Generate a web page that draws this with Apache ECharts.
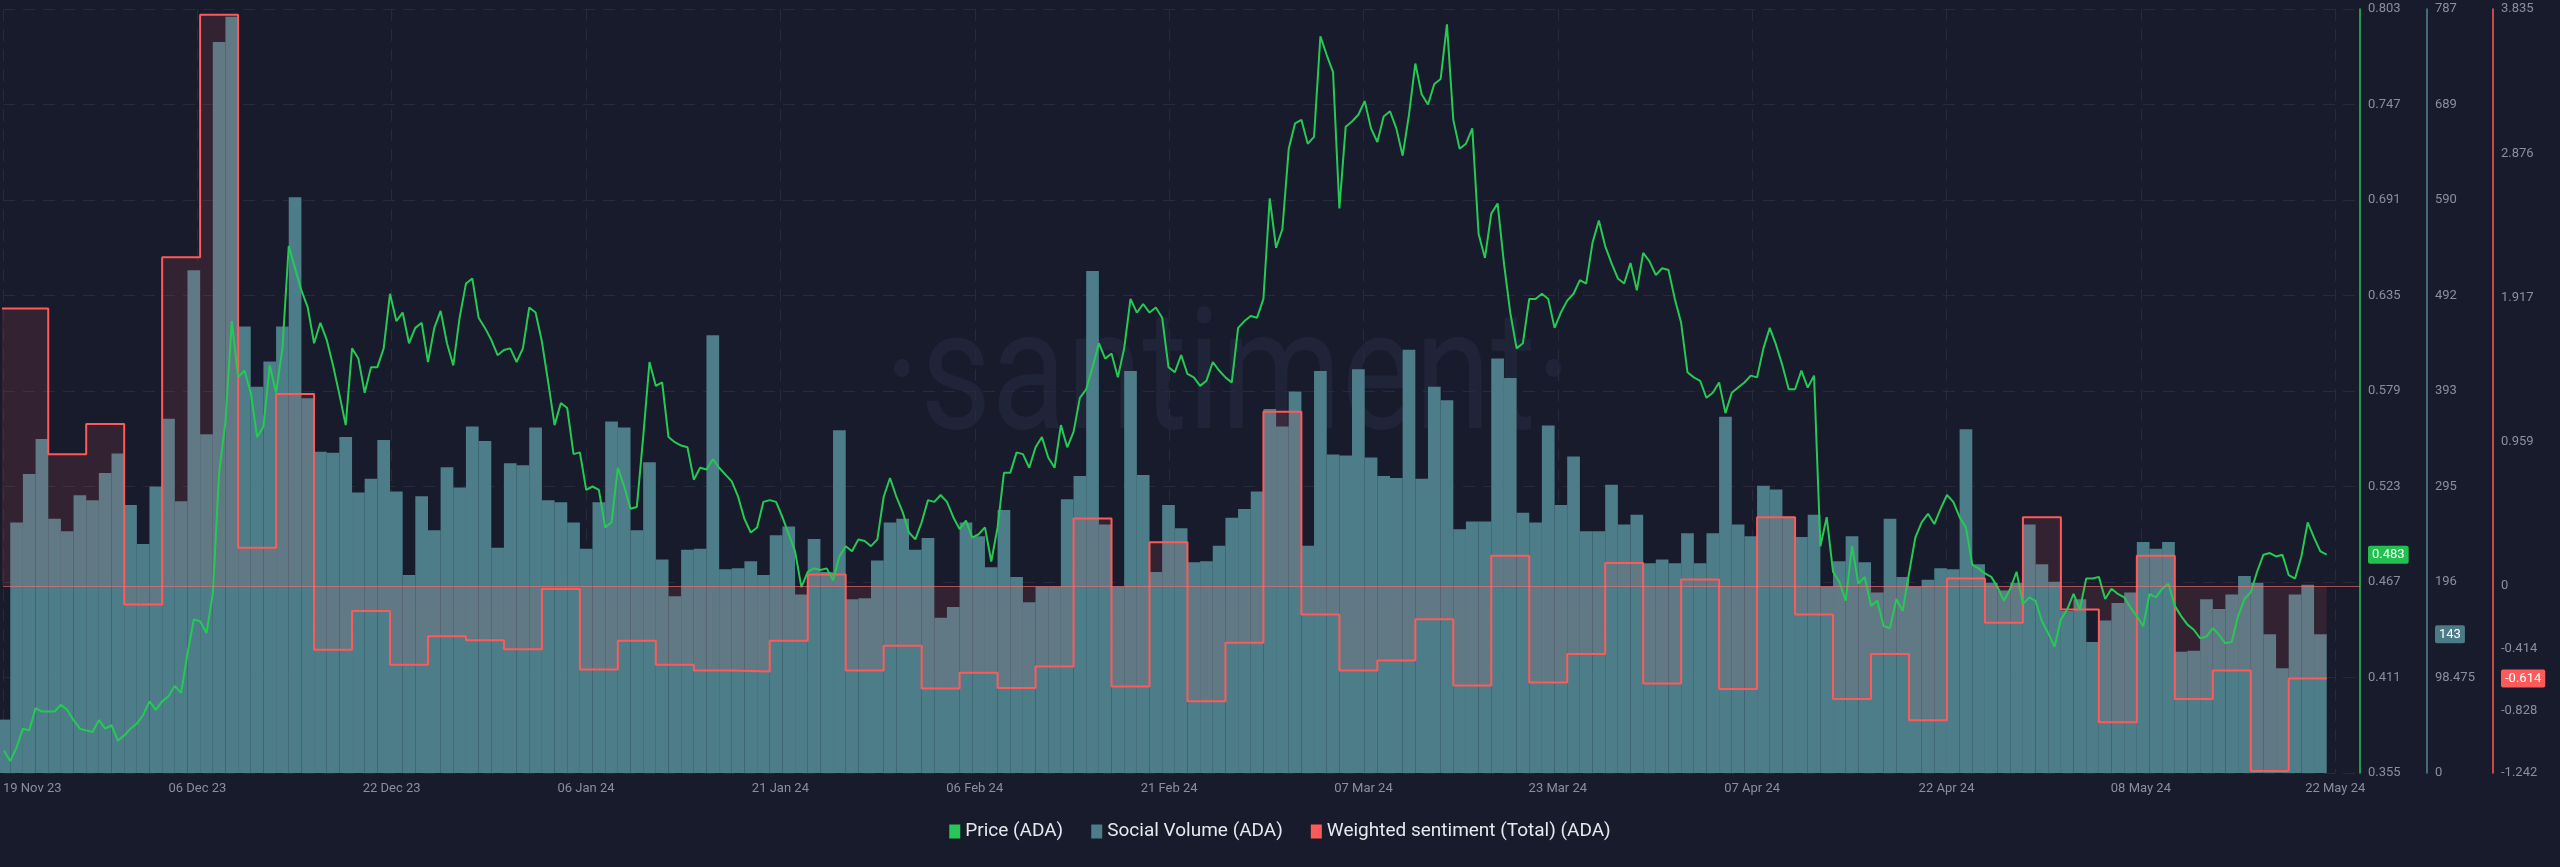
<!DOCTYPE html>
<html>
<head>
<meta charset="utf-8">
<title>ADA price, social volume and weighted sentiment</title>
<script src="https://cdn.jsdelivr.net/npm/echarts@6/dist/echarts.min.js"></script>
<style>
  html, body { margin: 0; padding: 0; background: #181b2b; }
  #chart { width: 2560px; height: 867px; }
</style>
</head>
<body>
<div id="chart"></div>
<script>
// x values are days counted from 20 Nov 2023 00:00

const dateTickLabels = ["19 Nov 23", "06 Dec 23", "22 Dec 23", "06 Jan 24", "21 Jan 24", "06 Feb 24",
  "21 Feb 24", "07 Mar 24", "23 Mar 24", "07 Apr 24", "22 Apr 24", "08 May 24", "22 May 24"];

// one bar per day, day 0 = 20 Nov 23
const socialVolume = [
  55, 258, 308, 344, 262, 249, 286, 281, 309, 329,
  276, 236, 295, 365, 280, 518, 349, 753, 779, 460,
  398, 424, 460, 593, 386, 331, 330, 346, 289, 303,
  343, 290, 204, 285, 250, 315, 294, 357, 342, 232,
  319, 317, 356, 281, 279, 258, 231, 279, 362, 356,
  250, 320, 220, 182, 230, 231, 451, 210, 211, 218,
  204, 245, 254, 184, 241, 207, 353, 179, 180, 219,
  258, 262, 230, 242, 160, 171, 258, 244, 212, 271,
  202, 176, 192, 192, 282, 306, 517, 256, 192, 414,
  307, 207, 276, 252, 217, 218, 234, 263, 272, 290,
  375, 357, 393, 234, 414, 328, 327, 416, 325, 306,
  304, 436, 303, 398, 384, 251, 259, 259, 427, 407,
  268, 258, 358, 276, 326, 249, 249, 297, 256, 266,
  216, 220, 216, 247, 216, 247, 367, 256, 244, 296,
  292, 264, 243, 266, 192, 218, 244, 217, 186, 262,
  202, 192, 199, 211, 210, 354, 215, 196, 188, 196,
  256, 215, 197, 167, 179, 135, 157, 175, 186, 238,
  231, 238, 125, 126, 179, 169, 184, 203, 196, 143,
  108, 184, 194, 143
];

// price every half day, first sample at day 0.5
const priceFirstDay = 0.5;
const priceStepDays = 0.5;
const price = [
  0.368, 0.362, 0.370, 0.381, 0.380, 0.393, 0.391, 0.391, 0.391, 0.395,
  0.392, 0.386, 0.381, 0.380, 0.379, 0.386, 0.381, 0.383, 0.374, 0.377,
  0.381, 0.384, 0.389, 0.397, 0.392, 0.397, 0.400, 0.406, 0.402, 0.425,
  0.445, 0.444, 0.437, 0.460, 0.531, 0.561, 0.620, 0.587, 0.591, 0.578,
  0.552, 0.558, 0.594, 0.578, 0.604, 0.664, 0.651, 0.638, 0.628, 0.607,
  0.619, 0.609, 0.594, 0.577, 0.559, 0.604, 0.598, 0.578, 0.593, 0.593,
  0.604, 0.636, 0.620, 0.625, 0.607, 0.616, 0.619, 0.596, 0.616, 0.626,
  0.607, 0.594, 0.622, 0.642, 0.645, 0.622, 0.616, 0.609, 0.600, 0.603,
  0.604, 0.596, 0.604, 0.628, 0.625, 0.608, 0.584, 0.559, 0.572, 0.569,
  0.542, 0.543, 0.521, 0.523, 0.521, 0.499, 0.502, 0.534, 0.523, 0.510,
  0.511, 0.552, 0.596, 0.582, 0.584, 0.552, 0.549, 0.547, 0.546, 0.527,
  0.534, 0.533, 0.539, 0.534, 0.530, 0.526, 0.517, 0.504, 0.496, 0.499,
  0.514, 0.515, 0.514, 0.505, 0.495, 0.485, 0.464, 0.473, 0.475, 0.474,
  0.475, 0.468, 0.482, 0.488, 0.485, 0.492, 0.491, 0.488, 0.492, 0.517,
  0.528, 0.517, 0.508, 0.496, 0.492, 0.502, 0.515, 0.514, 0.518, 0.514,
  0.505, 0.498, 0.503, 0.493, 0.495, 0.499, 0.479, 0.499, 0.531, 0.531,
  0.543, 0.542, 0.534, 0.546, 0.552, 0.540, 0.534, 0.559, 0.546, 0.555,
  0.575, 0.580, 0.593, 0.607, 0.598, 0.601, 0.587, 0.604, 0.633, 0.625,
  0.630, 0.625, 0.628, 0.622, 0.593, 0.590, 0.600, 0.589, 0.587, 0.582,
  0.585, 0.596, 0.591, 0.587, 0.584, 0.616, 0.620, 0.623, 0.622, 0.633,
  0.692, 0.663, 0.674, 0.721, 0.736, 0.738, 0.724, 0.728, 0.787, 0.776,
  0.766, 0.686, 0.734, 0.737, 0.741, 0.749, 0.733, 0.725, 0.740, 0.743,
  0.733, 0.717, 0.741, 0.771, 0.753, 0.747, 0.759, 0.762, 0.794, 0.738,
  0.721, 0.724, 0.733, 0.671, 0.657, 0.683, 0.689, 0.654, 0.625, 0.604,
  0.607, 0.633, 0.633, 0.636, 0.633, 0.616, 0.625, 0.632, 0.636, 0.644,
  0.642, 0.666, 0.679, 0.664, 0.654, 0.645, 0.642, 0.654, 0.638, 0.660,
  0.655, 0.647, 0.651, 0.650, 0.633, 0.619, 0.590, 0.587, 0.585, 0.575,
  0.578, 0.584, 0.566, 0.578, 0.581, 0.584, 0.588, 0.587, 0.604, 0.616,
  0.606, 0.594, 0.580, 0.580, 0.591, 0.581, 0.588, 0.488, 0.505, 0.473,
  0.467, 0.456, 0.488, 0.466, 0.470, 0.453, 0.456, 0.441, 0.440, 0.457,
  0.450, 0.472, 0.493, 0.502, 0.507, 0.501, 0.510, 0.518, 0.514, 0.505,
  0.499, 0.477, 0.475, 0.472, 0.470, 0.464, 0.456, 0.463, 0.473, 0.454,
  0.458, 0.456, 0.444, 0.437, 0.429, 0.445, 0.451, 0.460, 0.451, 0.469,
  0.469, 0.470, 0.457, 0.463, 0.460, 0.458, 0.452, 0.447, 0.441, 0.460,
  0.458, 0.463, 0.466, 0.453, 0.447, 0.442, 0.439, 0.434, 0.435, 0.440,
  0.436, 0.431, 0.432, 0.447, 0.457, 0.461, 0.473, 0.483, 0.484, 0.482,
  0.483, 0.471, 0.469, 0.482, 0.502, 0.493, 0.485, 0.483
];

// weighted sentiment, one value per 3-day period, first period starts at day -2
const sentimentFirstDay = -2;
const sentimentStepDays = 3;
const sentiment = [
  1.845, 1.845, 0.877, 1.078, -0.122, 2.186, 3.796, 0.255, 1.277, -0.423,
  -0.165, -0.522, -0.333, -0.360, -0.419, -0.019, -0.555, -0.363, -0.522, -0.561,
  -0.568, -0.363, 0.077, -0.561, -0.396, -0.680, -0.575, -0.677, -0.535, 0.450,
  -0.667, 0.291, -0.766, -0.376, 1.158, -0.188, -0.561, -0.495, -0.221, -0.661,
  0.202, -0.641, -0.452, 0.153, -0.647, 0.044, -0.684, 0.457, -0.188, -0.750,
  -0.452, -0.892, 0.050, -0.244, 0.457, -0.155, -0.905, 0.202, -0.750, -0.561,
  -1.229, -0.614
];

const priceTicks = [0.355, 0.411, 0.467, 0.523, 0.579, 0.635, 0.691, 0.747, 0.803];
const volumeTickLabels = ["0", "98.475", "196", "295", "393", "492", "590", "689", "787"];
const volumeMax = 787;
const sentimentTicks = [-1.242, -0.828, -0.414, 0, 0.959, 1.917, 2.876, 3.835];

// view window on the x axis
const X_MIN = 0.426;
const X_MAX = 186.63;
const X_TICK_STEP = 15.354;

const GREEN = "#26c953";
const TEAL = "#4d7d89";
const RED = "#ff5a5a";
const AXIS_TEXT = "#8a8f9f";
const FONT = "Roboto";

const lastPrice = price[price.length - 1];
const lastVolume = socialVolume[socialVolume.length - 1];
const lastSentiment = sentiment[sentiment.length - 1];

const xTicks = dateTickLabels.map((_, k) => X_MIN + k * X_TICK_STEP);
const volumeTicks = volumeTickLabels.map((_, k) => (volumeMax * k) / (volumeTickLabels.length - 1));

const volumeData = socialVolume.map((v, k) => [k + 0.5, v]);
const priceData = price.map((v, i) => [priceFirstDay + i * priceStepDays, v]);
const sentimentData = sentiment.map((v, j) => [sentimentFirstDay + j * sentimentStepDays, v]);
sentimentData.push([sentimentFirstDay + sentiment.length * sentimentStepDays, lastSentiment]);

function badge(color) {
  return {
    backgroundColor: color,
    color: "#ffffff",
    padding: [3, 4, 2, 4],
    borderRadius: 2,
    fontSize: 13,
    fontFamily: FONT
  };
}

const chart = echarts.init(document.getElementById("chart"));

const option = {
  backgroundColor: "#181b2b",
  animation: false,
  grid: { left: 0, right: 200, top: 9, bottom: 94 },
  graphic: [{
    type: "text",
    x: 1228,
    y: 386,
    scaleX: 0.82,
    z: -10,
    silent: true,
    style: {
      text: "\u00B7santiment\u00B7",
      fontSize: 168,
      fontWeight: "normal",
      fontFamily: "Roboto",
      fill: "#202438",
      textAlign: "center",
      textVerticalAlign: "middle"
    }
  }],
  legend: {
    bottom: 21,
    left: "center",
    icon: "rect",
    itemWidth: 11,
    itemHeight: 14,
    itemGap: 28,
    textStyle: { color: "#e6e8ee", fontSize: 19, fontFamily: FONT },
    data: ["Price (ADA)", "Social Volume (ADA)", "Weighted sentiment (Total) (ADA)"]
  },
  xAxis: {
    type: "value",
    min: X_MIN,
    max: X_MAX,
    axisLine: { show: false },
    axisTick: { show: false, customValues: xTicks },
    axisLabel: {
      customValues: xTicks,
      color: AXIS_TEXT,
      fontSize: 13,
      fontFamily: FONT,
      margin: 9,
      alignMinLabel: "left",
      formatter: v => dateTickLabels[Math.round((v - X_MIN) / X_TICK_STEP)]
    },
    splitLine: { show: true, lineStyle: { color: "#262a3b", width: 1, type: [12, 8] } }
  },
  yAxis: [
    {
      type: "value",
      position: "right",
      min: priceTicks[0],
      max: priceTicks[priceTicks.length - 1],
      axisLine: { show: true, lineStyle: { color: GREEN, width: 1.5 } },
      axisTick: { show: false, customValues: priceTicks },
      axisLabel: {
        customValues: priceTicks.concat([lastPrice]),
        color: AXIS_TEXT,
        fontSize: 13,
        fontFamily: FONT,
        margin: 8,
        formatter: v => v === lastPrice ? "{last|" + v.toFixed(3) + "}" : v.toFixed(3),
        rich: { last: badge("#22c04e") }
      },
      splitLine: { show: true, lineStyle: { color: "#262a3b", width: 1, type: [12, 8] } }
    },
    {
      type: "value",
      position: "right",
      offset: 67,
      min: 0,
      max: volumeMax,
      axisLine: { show: true, lineStyle: { color: "#4f8793", width: 1.5 } },
      axisTick: { show: false, customValues: volumeTicks },
      axisLabel: {
        customValues: volumeTicks.concat([lastVolume]),
        color: AXIS_TEXT,
        fontSize: 13,
        fontFamily: FONT,
        margin: 8,
        formatter: v => v === lastVolume
          ? "{last|" + v + "}"
          : volumeTickLabels[Math.round(v / (volumeMax / (volumeTickLabels.length - 1)))],
        rich: { last: badge("#4a7b87") }
      },
      splitLine: { show: false }
    },
    {
      type: "value",
      position: "right",
      offset: 133,
      min: sentimentTicks[0],
      max: sentimentTicks[sentimentTicks.length - 1],
      axisLine: { show: true, lineStyle: { color: RED, width: 1.5 } },
      axisTick: { show: false, customValues: sentimentTicks },
      axisLabel: {
        customValues: sentimentTicks.concat([lastSentiment]),
        color: AXIS_TEXT,
        fontSize: 13,
        fontFamily: FONT,
        margin: 8,
        formatter: v => v === lastSentiment ? "{last|" + v.toFixed(3) + "}" : (v === 0 ? "0" : String(v)),
        rich: { last: badge("#ff5a5a") }
      },
      splitLine: { show: false }
    }
  ],
  series: [
    {
      name: "Social Volume (ADA)",
      type: "bar",
      xAxisIndex: 0,
      yAxisIndex: 1,
      barWidth: 12.7,
      itemStyle: { color: TEAL },
      data: volumeData,
      z: 1
    },
    {
      name: "Weighted sentiment (Total) (ADA)",
      type: "line",
      xAxisIndex: 0,
      yAxisIndex: 2,
      step: "end",
      symbol: "none",
      itemStyle: { color: RED },
      lineStyle: { color: RED, width: 2 },
      areaStyle: { color: "rgba(255, 90, 100, 0.17)", origin: 0 },
      markLine: {
        silent: true,
        symbol: "none",
        label: { show: false },
        lineStyle: { color: "rgba(255, 110, 110, 0.6)", width: 1, type: "solid" },
        data: [{ yAxis: 0 }]
      },
      data: sentimentData,
      z: 2
    },
    {
      name: "Price (ADA)",
      type: "line",
      xAxisIndex: 0,
      yAxisIndex: 0,
      symbol: "none",
      itemStyle: { color: GREEN },
      lineStyle: { color: GREEN, width: 2 },
      data: priceData,
      z: 3
    }
  ]
};

chart.setOption(option);
</script>
</body>
</html>
